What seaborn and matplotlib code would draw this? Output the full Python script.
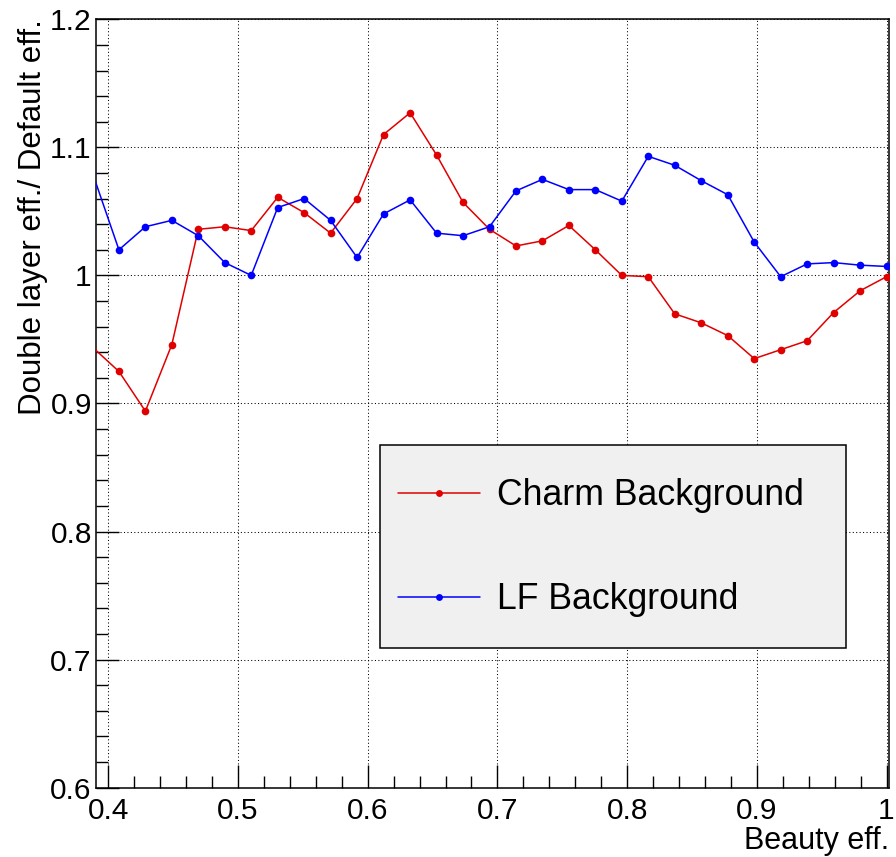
import matplotlib
matplotlib.use("Agg")
import matplotlib.pyplot as plt
import matplotlib.ticker as mticker
from matplotlib.patches import Rectangle
import numpy as np
import pandas as pd
import seaborn as sns

# ---- data ----
beauty_eff = [0.3878, 0.4082, 0.4286, 0.4490, 0.4694, 0.4898, 0.5102, 0.5306,
              0.5510, 0.5714, 0.5918, 0.6122, 0.6327, 0.6531, 0.6735, 0.6939,
              0.7143, 0.7347, 0.7551, 0.7755, 0.7959, 0.8163, 0.8367, 0.8571,
              0.8776, 0.8980, 0.9184, 0.9388, 0.9592, 0.9796, 1.0000]
charm_ratio = [0.944, 0.925, 0.894, 0.946, 1.036, 1.038, 1.035, 1.061, 1.049,
               1.033, 1.060, 1.110, 1.127, 1.094, 1.057, 1.036, 1.023, 1.027,
               1.039, 1.020, 1.000, 0.999, 0.970, 0.963, 0.953, 0.935, 0.942,
               0.949, 0.971, 0.988, 0.999]
lf_ratio = [1.080, 1.020, 1.038, 1.043, 1.031, 1.010, 1.000, 1.053, 1.060,
            1.043, 1.014, 1.048, 1.059, 1.033, 1.031, 1.038, 1.066, 1.075,
            1.067, 1.067, 1.058, 1.093, 1.086, 1.074, 1.063, 1.026, 0.999,
            1.009, 1.010, 1.008, 1.007]
series_labels = ["Charm Background", "LF Background"]
series_colors = ["#e00000", "#0000ff"]
x_ticks = [0.4, 0.5, 0.6, 0.7, 0.8, 0.9, 1.0]
y_ticks = [0.6, 0.7, 0.8, 0.9, 1.0, 1.1, 1.2]

sns.set_style("white")
plt.rcParams["font.family"] = ["Liberation Sans", "DejaVu Sans"]
plt.rcParams["text.color"] = "black"
plt.rcParams["axes.labelcolor"] = "black"
plt.rcParams["xtick.color"] = "black"
plt.rcParams["ytick.color"] = "black"

fig = plt.figure(figsize=(8.96, 8.57), dpi=100)
ax = fig.add_axes([0.1071, 0.0809, 0.9922 - 0.1071, 0.9775 - 0.0809])

for yvals, lab, col in zip([charm_ratio, lf_ratio], series_labels, series_colors):
    df = pd.DataFrame({"eff": beauty_eff, "ratio": yvals})
    sns.lineplot(data=df, x="eff", y="ratio", ax=ax, color=col, marker="o",
                 markersize=5.5, markeredgewidth=0, linewidth=1.1,
                 sort=False, legend=False, zorder=4)

ax.set_xlim(0.3905, 1.0019)
ax.set_ylim(0.6, 1.2)

fmt = mticker.FuncFormatter(lambda v, p: f"{v:g}")
ax.xaxis.set_major_locator(mticker.FixedLocator(x_ticks))
ax.yaxis.set_major_locator(mticker.FixedLocator(y_ticks))
ax.xaxis.set_major_formatter(fmt)
ax.yaxis.set_major_formatter(fmt)
ax.xaxis.set_minor_locator(mticker.MultipleLocator(0.02))
ax.yaxis.set_minor_locator(mticker.MultipleLocator(0.02))

ax.tick_params(axis="both", which="major", direction="in", length=16.5,
               width=1.0, color="black", labelsize=21.5, labelcolor="black")
ax.tick_params(axis="both", which="minor", direction="in", length=8.3,
               width=1.0, color="black")
ax.tick_params(axis="x", which="major", pad=7)
ax.tick_params(axis="y", which="major", pad=3)
ax.tick_params(top=False, right=False, which="both")
ax.tick_params(axis="both", which="both", bottom=True, left=True)

ax.grid(True, which="major", color="black", linestyle=(0, (1, 2.3)),
        linewidth=0.75)
ax.set_axisbelow(True)

for sp in ax.spines.values():
    sp.set_color("black")
    sp.set_linewidth(1.1)
    sp.set_visible(True)

ax.set_xlabel("Beauty eff.", fontsize=22, loc="right", color="black")
ax.set_ylabel("Double layer eff./ Default eff.", fontsize=22.5, loc="top",
              color="black")
ax.xaxis.set_label_coords(1.0, -0.05)
ax.yaxis.set_label_coords(-0.06, 1.0)

# legend box
rect = Rectangle((0.3581, 0.1818), 0.9458 - 0.3581, 0.446 - 0.1818,
                 transform=ax.transAxes, facecolor="#f0f0f0",
                 edgecolor="black", linewidth=1.1, zorder=5)
ax.add_patch(rect)
handles = ax.get_lines()[:2]
leg = ax.legend(handles, series_labels, loc="center left",
                bbox_to_anchor=(0.3808, 0.3125), frameon=False,
                borderpad=0, borderaxespad=0, handlelength=2.3,
                handletextpad=0.48, labelspacing=1.93, fontsize=25.7,
                markerscale=0.9, labelcolor="black")
leg.set_zorder(6)

fig.savefig("out.png", dpi=100)
